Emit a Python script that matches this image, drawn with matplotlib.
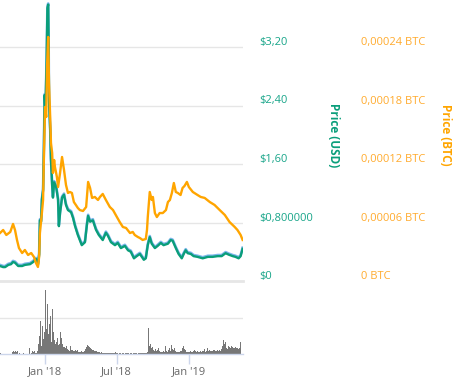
import numpy as np
import pandas as pd
import matplotlib
matplotlib.use("Agg")
import matplotlib.pyplot as plt
from matplotlib.transforms import ScaledTranslation


# ======================
# data
# ======================
# price in USD (days relative to 2018-01-01)
usd_day = [
    -114, -106, -101, -93, -86, -81, -76, -68, -58, -51, -38, -30, -23, -18,
    -15, -13, -10, -8, -5, -3, -1, 1, 4, 6, 8, 9, 10, 13, 15, 18, 20, 23, 28,
    33, 35, 38, 43, 48, 53, 58, 66, 71, 76, 83, 93, 101, 106, 109, 114, 121,
    129, 136, 146, 154, 159, 167, 177, 184, 192, 202, 210, 217, 225, 232, 240,
    250, 255, 260, 265, 270, 278, 285, 293, 300, 311, 318, 323, 331, 338, 346,
    351, 356, 361, 369, 376, 386, 399, 412, 424, 437, 447, 457, 465, 475, 482,
    490, 495, 500
]
usd_price = [
    0.205, 0.19, 0.19, 0.22, 0.23, 0.26, 0.25, 0.205, 0.205, 0.22, 0.23, 0.26,
    0.30, 0.22, 0.36, 0.83, 0.81, 1.11, 1.24, 1.79, 2.54, 2.34, 3.02, 3.73,
    3.78, 3.30, 2.48, 2.07, 1.66, 1.31, 1.14, 1.35, 1.29, 1.11, 0.75, 0.93,
    1.14, 1.18, 1.04, 0.97, 0.94, 0.86, 0.75, 0.63, 0.49, 0.53, 0.77, 0.89,
    0.81, 0.83, 0.70, 0.63, 0.56, 0.66, 0.62, 0.53, 0.49, 0.52, 0.45, 0.48,
    0.42, 0.40, 0.31, 0.34, 0.37, 0.29, 0.31, 0.49, 0.60, 0.51, 0.45, 0.48,
    0.52, 0.49, 0.51, 0.56, 0.55, 0.45, 0.37, 0.31, 0.37, 0.42, 0.38, 0.37,
    0.34, 0.33, 0.31, 0.33, 0.33, 0.34, 0.34, 0.38, 0.36, 0.34, 0.33, 0.31,
    0.34, 0.44
]

# price in BTC (units of 1e-5 BTC)
btc_day = [
    -114, -106, -98, -88, -81, -76, -71, -66, -58, -51, -43, -35, -28, -23,
    -18, -15, -13, -8, -5, -3, 0, 3, 5, 8, 10, 13, 15, 18, 20, 23, 25, 30, 33,
    38, 43, 48, 53, 58, 63, 68, 73, 78, 83, 88, 96, 104, 109, 114, 119, 126,
    134, 139, 146, 154, 164, 172, 179, 189, 197, 205, 215, 222, 227, 235, 240,
    247, 255, 258, 260, 265, 270, 273, 278, 283, 290, 298, 306, 311, 316, 321,
    326, 331, 336, 343, 348, 353, 359, 364, 374, 386, 394, 404, 417, 429, 442,
    455, 467, 480, 487, 495, 500
]
btc_price = [
    4.92, 5.23, 4.72, 5.03, 5.85, 5.23, 4.21, 3.38, 2.87, 3.18, 2.67, 2.87,
    2.46, 1.85, 1.44, 2.46, 4.92, 6.97, 8.31, 12.41, 17.85, 16.82, 21.95,
    25.03, 20.31, 16.82, 14.15, 13.13, 11.08, 12.41, 11.70, 10.67, 9.64, 11.08,
    12.72, 11.39, 9.85, 9.03, 9.13, 9.03, 8.10, 7.80, 7.49, 7.28, 7.18, 7.59,
    10.16, 9.54, 8.52, 8.62, 8.31, 8.62, 8.93, 8.31, 7.59, 7.28, 6.77, 6.05,
    5.54, 5.44, 4.92, 5.03, 4.72, 4.51, 4.41, 4.21, 4.31, 5.23, 6.56, 9.13,
    8.31, 8.62, 6.97, 6.56, 6.97, 6.97, 7.28, 8.10, 8.31, 9.03, 10.05, 9.13,
    9.03, 8.82, 9.54, 9.75, 10.16, 9.64, 9.13, 8.82, 8.62, 8.52, 8.10, 7.80,
    7.28, 6.77, 6.05, 5.54, 5.23, 4.72, 4.21
]

# volume (one bar every 60 hours from 2017-09-09)
volume = [
    1, 0, 0, 0, 0, 0, 0, 0, 0, 0, 0, 0,
    2, 3, 2, 3, 2, 3,
    0, 1, 0, 0, 0, 1, 0, 0, 0, 0, 0, 6, 0, 1, 3, 2, 3, 1, 1, 3,
    10, 18, 33, 12, 8, 28, 15, 22, 64, 25, 50, 20, 30, 38, 12, 45, 22, 14,
    10, 12, 16, 9, 10, 22, 16, 10,
    7, 7, 6, 8, 5, 4, 3, 8, 4, 4, 3, 3, 4, 3, 4, 2, 2, 2, 3, 2, 2, 3, 5, 7,
    9, 8, 7, 6, 5, 4, 4, 3, 3, 3, 2, 2,
    2, 1, 2, 1, 1, 1, 1, 1, 1, 1, 1, 1, 1, 1, 1, 1, 2, 1,
    1, 0, 1, 1, 0, 1, 1, 1, 0, 1, 1, 1, 1, 0, 1, 1, 0, 1, 1, 1, 1, 0, 1, 1,
    1, 1, 1, 1, 1, 1, 1, 2,
    26, 8, 10, 6, 7, 4, 3, 5, 3, 4, 6, 3, 2, 2, 2, 3, 2, 8, 3, 2, 4, 6, 3,
    9, 5, 4, 6, 3, 2, 2, 2, 2, 3, 3, 6, 8, 5, 4, 2, 2, 2, 2, 3, 2, 2, 3, 4,
    3, 2, 3, 2, 2, 3, 2, 3, 4, 3, 5, 2, 3, 6, 3, 4, 3, 3, 3, 4, 4, 3, 3, 4,
    3, 4, 3, 5, 8, 14, 10, 12, 6, 5, 8, 7, 6, 8, 7, 6, 6, 7, 6, 6, 5, 6, 12
]

usd_ticks = [0, 0.8, 1.6, 2.4, 3.2]
usd_labels = ["$0", "$0,800000", "$1,60", "$2,40", "$3,20"]
btc_ticks = [0, 6e-5, 12e-5, 18e-5, 24e-5]
btc_labels = ["0 BTC", "0,00006 BTC", "0,00012 BTC", "0,00018 BTC", "0,00024 BTC"]
x_ticks = ["2018-01-01", "2018-07-01", "2019-01-01"]
x_labels = ["Jan '18", "Jul '18", "Jan '19"]


# ======================
# style
# ======================
plt.rcParams["font.family"] = ["Open Sans", "DejaVu Sans"]

GREEN = "#0a9e7a"
GREEN_TXT = "#18a589"
BLUE = "#7cb5ec"
ORANGE = "#ffa500"
ORANGE_TXT = "#ffab2e"
GRID = "#e6e6e6"
AXIS = "#ccd6eb"

base = pd.Timestamp("2018-01-01")
usd_dates = base + pd.to_timedelta(usd_day, unit="D")
btc_dates = base + pd.to_timedelta(btc_day, unit="D")
vol_dates = pd.date_range("2017-09-09", periods=len(volume), freq="60h")

x_min = pd.Timestamp("2017-09-09")
x_max = pd.Timestamp("2019-05-17")

W, H = 467, 377
fig = plt.figure(figsize=(W / 100, H / 100), dpi=100)
lift = ScaledTranslation(0, 0.06, fig.dpi_scale_trans)


def box(left, top, right, bottom):
    return [left / W, 1 - bottom / H, (right - left) / W, (bottom - top) / H]


# ======================
# price pane
# ======================
ax = fig.add_axes(box(0, 0, 243, 281))
ax2 = ax.twinx()
usd_top = 281 * 0.8 / 58.5

ax.plot(usd_dates, usd_price, color=BLUE, lw=1.9,
        transform=ax.transData + ScaledTranslation(0, 0.011, fig.dpi_scale_trans),
        zorder=2)
ax.plot(usd_dates, usd_price, color=GREEN, lw=1.7, zorder=3)

ax.set_xlim(x_min, x_max)
ax.set_ylim(0, usd_top)
ax.set_xticks([])

for s in ["top", "left", "right"]:
    ax.spines[s].set_visible(False)
ax.spines["bottom"].set_color(GRID)
ax.spines["bottom"].set_linewidth(2)

ax.yaxis.tick_right()
ax.set_yticks(usd_ticks)
ax.set_yticklabels(usd_labels)
ax.tick_params(axis="y", which="both", left=False, right=False, labelleft=False,
               labelright=True, length=0, pad=11.5, labelsize=8,
               labelcolor=GREEN_TXT)
for lab in ax.get_yticklabels(which="both"):
    lab.set_transform(lab.get_transform() + lift)
ax.grid(axis="y", color=GRID, lw=1)
ax.set_axisbelow(True)

# BTC on the twin axis, drawn on top
ax2.plot(btc_dates, np.array(btc_price) * 1e-5, color=ORANGE, lw=1.7, zorder=4)
ax2.set_ylim(0, usd_top * 0.000075)
ax2.set_xlim(x_min, x_max)
for s in ["top", "left", "right", "bottom"]:
    ax2.spines[s].set_visible(False)
ax2.set_yticks(btc_ticks)
ax2.set_yticklabels(btc_labels)
ax2.tick_params(axis="y", length=0, pad=85, labelsize=8, labelcolor=ORANGE_TXT)
for lab in ax2.get_yticklabels():
    lab.set_transform(lab.get_transform() + lift)

fig.text(334 / W, 1 - 135 / H, "Price (USD)", rotation=270, ha="center",
         va="center", fontsize=8.5, fontweight="bold", color=GREEN)
fig.text(446 / W, 1 - 135 / H, "Price (BTC)", rotation=270, ha="center",
         va="center", fontsize=8.5, fontweight="bold", color=ORANGE)


# ======================
# volume pane
# ======================
axv = fig.add_axes(box(0, 283, 243, 354))
axv.bar(vol_dates, volume, width=2.5, color="#777777", linewidth=0, align="edge")
axv.set_xlim(x_min, x_max)
axv.set_ylim(0, 71)
axv.set_yticks([36])
axv.set_yticklabels([])
axv.tick_params(axis="y", length=0)
axv.grid(axis="y", color=GRID, lw=1)
axv.set_axisbelow(True)

for s in ["top", "left", "right"]:
    axv.spines[s].set_visible(False)
axv.spines["bottom"].set_color(AXIS)
axv.spines["bottom"].set_linewidth(1)

axv.set_xticks(pd.to_datetime(x_ticks))
axv.set_xticklabels(x_labels)
axv.tick_params(axis="x", length=7, width=1, color=AXIS, pad=2,
                labelsize=8, labelcolor="#666666")

fig.savefig("out.png", dpi=100)
